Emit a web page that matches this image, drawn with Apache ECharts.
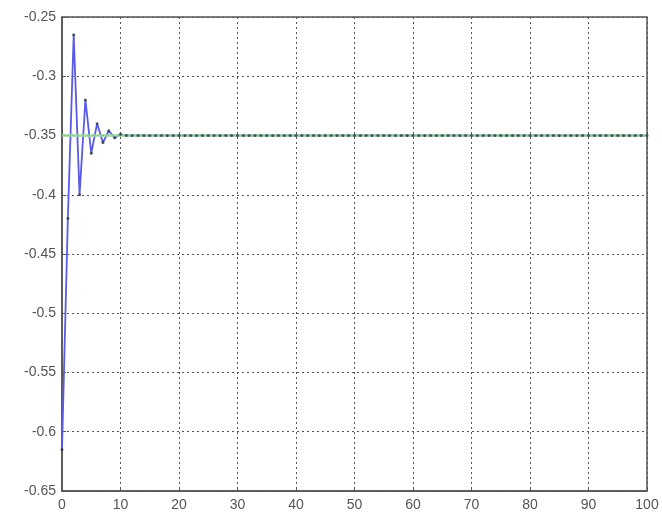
<!DOCTYPE html>
<html>
<head>
<meta charset="utf-8">
<script src="https://cdn.jsdelivr.net/npm/echarts@6/dist/echarts.min.js"></script>
<style>html,body{margin:0;padding:0;background:#fff;}#c{width:662px;height:519px;}</style>
</head>
<body>
<div id="c"></div>
<script>
const xValues = [0,1,2,3,4,5,6,7,8,9,10,11,12,13,14,15,16,17,18,19,20,21,22,23,24,25,26,27,28,29,30,31,32,33,34,35,36,37,38,39,40,41,42,43,44,45,46,47,48,49,50,51,52,53,54,55,56,57,58,59,60,61,62,63,64,65,66,67,68,69,70,71,72,73,74,75,76,77,78,79,80,81,82,83,84,85,86,87,88,89,90,91,92,93,94,95,96,97,98,99,100];
const blueValues = [-0.615,-0.42,-0.265,-0.40,-0.32,-0.365,-0.34,-0.356,-0.346,-0.352,-0.349,
-0.35,-0.35,-0.35,-0.35,-0.35,-0.35,-0.35,-0.35,-0.35,-0.35,
-0.35,-0.35,-0.35,-0.35,-0.35,-0.35,-0.35,-0.35,-0.35,-0.35,
-0.35,-0.35,-0.35,-0.35,-0.35,-0.35,-0.35,-0.35,-0.35,-0.35,
-0.35,-0.35,-0.35,-0.35,-0.35,-0.35,-0.35,-0.35,-0.35,-0.35,
-0.35,-0.35,-0.35,-0.35,-0.35,-0.35,-0.35,-0.35,-0.35,-0.35,
-0.35,-0.35,-0.35,-0.35,-0.35,-0.35,-0.35,-0.35,-0.35,-0.35,
-0.35,-0.35,-0.35,-0.35,-0.35,-0.35,-0.35,-0.35,-0.35,-0.35,
-0.35,-0.35,-0.35,-0.35,-0.35,-0.35,-0.35,-0.35,-0.35,-0.35,
-0.35,-0.35,-0.35,-0.35,-0.35,-0.35,-0.35,-0.35,-0.35,-0.35];
const greenX = [0, 100];
const greenValues = [-0.35, -0.35];
const xTickLabels = ['0','10','20','30','40','50','60','70','80','90','100'];
const yTickLabels = ['-0.65','-0.6','-0.55','-0.5','-0.45','-0.4','-0.35','-0.3','-0.25'];

const blueData = xValues.map((x, i) => [x, blueValues[i]]);
const greenData = greenX.map((x, i) => [x, greenValues[i]]);

const chart = echarts.init(document.getElementById('c'), null, {renderer: 'canvas'});
const gridLine = {show: true, lineStyle: {color: '#555', type: [2, 3], width: 1}};
const axisLine = {show: true, onZero: false, lineStyle: {color: '#555', width: 1.5}};
const labelStyle = {color: '#555', fontSize: 14, fontFamily: 'Liberation Sans, Arial, sans-serif'};
chart.setOption({
  animation: false,
  backgroundColor: '#fff',
  grid: {left: 62, right: 15, top: 17, bottom: 28, show: true, borderColor: '#555', borderWidth: 1.5},
  xAxis: {
    type: 'value', min: 0, max: 100, interval: 10,
    axisLine: axisLine,
    axisTick: {show: true, inside: true, length: 4, lineStyle: {color: '#555'}},
    splitLine: gridLine,
    axisLabel: Object.assign({margin: 7, formatter: (v) => xTickLabels[Math.round(v / 10)]}, labelStyle)
  },
  yAxis: {
    type: 'value', min: -0.65, max: -0.25, interval: 0.05,
    axisLine: axisLine,
    axisTick: {show: true, inside: true, length: 4, lineStyle: {color: '#555'}},
    splitLine: gridLine,
    axisLabel: Object.assign({margin: 6, formatter: (v) => yTickLabels[Math.round((v + 0.65) / 0.05)]}, labelStyle)
  },
  series: [
    {type: 'line', data: blueData, showSymbol: false, symbol: 'none', lineStyle: {color: '#5a5ae8', width: 1.8}, z: 2},
    {type: 'line', data: greenData, showSymbol: false, symbol: 'none', lineStyle: {color: '#9ad89a', width: 3, opacity: 0.8}, z: 3},
    {type: 'scatter', data: blueData, symbol: 'circle', symbolSize: 3, itemStyle: {color: '#2a3a3a'}, z: 4}
  ]
});
</script>
</body>
</html>
